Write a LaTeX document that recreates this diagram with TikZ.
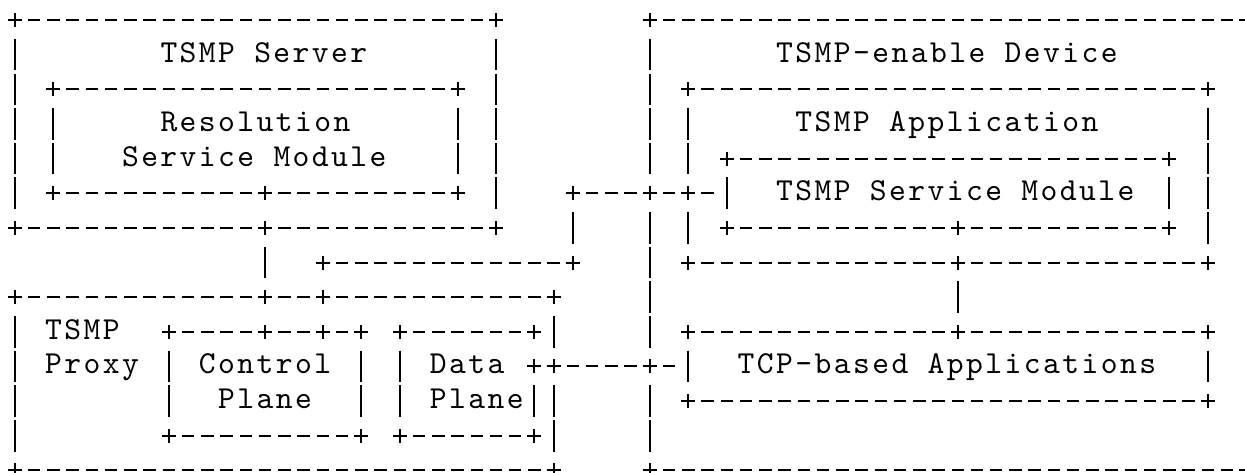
\documentclass[tikz,border=0pt]{standalone}
\usepackage{fontspec}
\newfontfamily\gridmono[LetterSpace=7.63]{lmmono10-regular.otf}
\usetikzlibrary{calc}

\begin{document}
\begin{tikzpicture}[
    x=19.24pt, y=-34.65pt,
    box/.style 2 args={rectangle, inner sep=0pt, outer sep=0pt, minimum width=#1*19.24pt, minimum height=#2*34.65pt},
    hline/.style={line width=2pt, dash pattern=on 12.5pt off 6.74pt, dash phase=6.25pt},
    vline/.style={line width=2pt, dash pattern=on 31.5pt off 3.15pt, dash phase=15.75pt},
    plus/.style={rectangle, fill=white, inner sep=0pt, minimum width=19.24pt, minimum height=34.65pt,
        path picture={\draw[line width=2pt] (path picture bounding box.center) +(-7pt,0) -- +(7pt,0) +(0,-7pt) -- +(0,7pt);}},
    txt/.style={font=\gridmono\fontsize{32}{34.65}\selectfont, anchor=base west, inner sep=0pt, xshift=1pt, yshift=-7.5pt}
]
    \useasboundingbox (-0.78,-0.577) rectangle (63.93,13.074);

    % Boxes (columns and rows of the character grid)
    \node[box={25}{6}] (server) at (12.5,3) {};
    \node[box={21}{3}] (resmod) at (12.5,3.5) {};
    \node[box={28}{5}] (proxy) at (14,10.5) {};
    \node[box={10}{3}] (ctrl) at (13,10.5) {};
    \node[box={7}{3}] (data) at (23.5,10.5) {};
    \node[box={31}{13}] (device) at (48.5,6.5) {};
    \node[box={27}{5}] (app) at (48.5,4.5) {};
    \node[box={23}{2}] (svc) at (48.5,5) {};
    \node[box={27}{2}] (tcp) at (48.5,10) {};

    \foreach \b in {server,resmod,proxy,ctrl,data,device,app,svc,tcp} {
        \draw[hline] (\b.north west) -- (\b.north east);
        \draw[hline] (\b.south west) -- (\b.south east);
        \draw[vline] (\b.north west) -- (\b.south west);
        \draw[vline] (\b.north east) -- (\b.south east);
    }

    % Connector ports and bends
    \coordinate (cport) at ($(ctrl.north east)+(-2,0)$);
    \coordinate (bend1) at (16,7);
    \coordinate (bend2) at (29,7);
    \coordinate (bend3) at (29,5);
    \coordinate (sport) at ($(svc.south)+(0.5,0)$);
    \coordinate (across) at ($(app.south)+(0.5,0)$);
    \coordinate (tport) at ($(tcp.north)+(0.5,0)$);

    % Connectors
    \draw[vline] (ctrl.north |- resmod.south) -- (ctrl.north);
    \draw[vline] (cport) -- (bend1);
    \draw[hline] (bend1) -- (bend2);
    \draw[vline] (bend2) -- (bend3);
    \draw[hline, shorten >=9.62pt] (bend3) -- (svc.west);
    \draw[hline, shorten >=9.62pt] (data.east |- tcp.west) -- (tcp.west);
    \draw[vline] (sport) -- (tport);

    % Corners and junctions
    \foreach \b in {server,resmod,proxy,ctrl,data,device,app,svc,tcp}
        \foreach \a/\s in {north west/nw,north east/ne,south west/sw,south east/se}
            \node[plus] (\b-\s) at (\b.\a) {};
    \foreach \p [count=\i] in {(ctrl.north |- resmod.south), (ctrl.north |- server.south),
        (ctrl.north |- proxy.north), (ctrl.north), (cport), (cport |- proxy.north),
        (bend1), (bend2), (bend3), (device.west |- bend3), (app.west |- bend3),
        (data.east |- tcp.west), (proxy.east |- tcp.west), (device.west |- tcp.west),
        (sport), (across), (tport)}
        \node[plus] (j\i) at \p {};

    % Labels
    \node[txt] (server-t) at (7.5,1) {TSMP Server};
    \node[txt] (resmod-t1) at (7.5,3) {Resolution};
    \node[txt] (resmod-t2) at (5.5,4) {Service Module};
    \node[txt] (proxy-t1) at (1.5,9) {TSMP};
    \node[txt] (proxy-t2) at (1.5,10) {Proxy};
    \node[txt] (ctrl-t1) at (9.5,10) {Control};
    \node[txt] (ctrl-t2) at (10.5,11) {Plane};
    \node[txt] (data-t1) at (21.5,10) {Data};
    \node[txt] (data-t2) at (21.5,11) {Plane};
    \node[txt] (device-t) at (39.5,1) {TSMP-enable Device};
    \node[txt] (app-t) at (40.5,3) {TSMP Application};
    \node[txt] (svc-t) at (39.5,5) {TSMP Service Module};
    \node[txt] (tcp-t) at (37.5,10) {TCP-based Applications};
\end{tikzpicture}
\end{document}
